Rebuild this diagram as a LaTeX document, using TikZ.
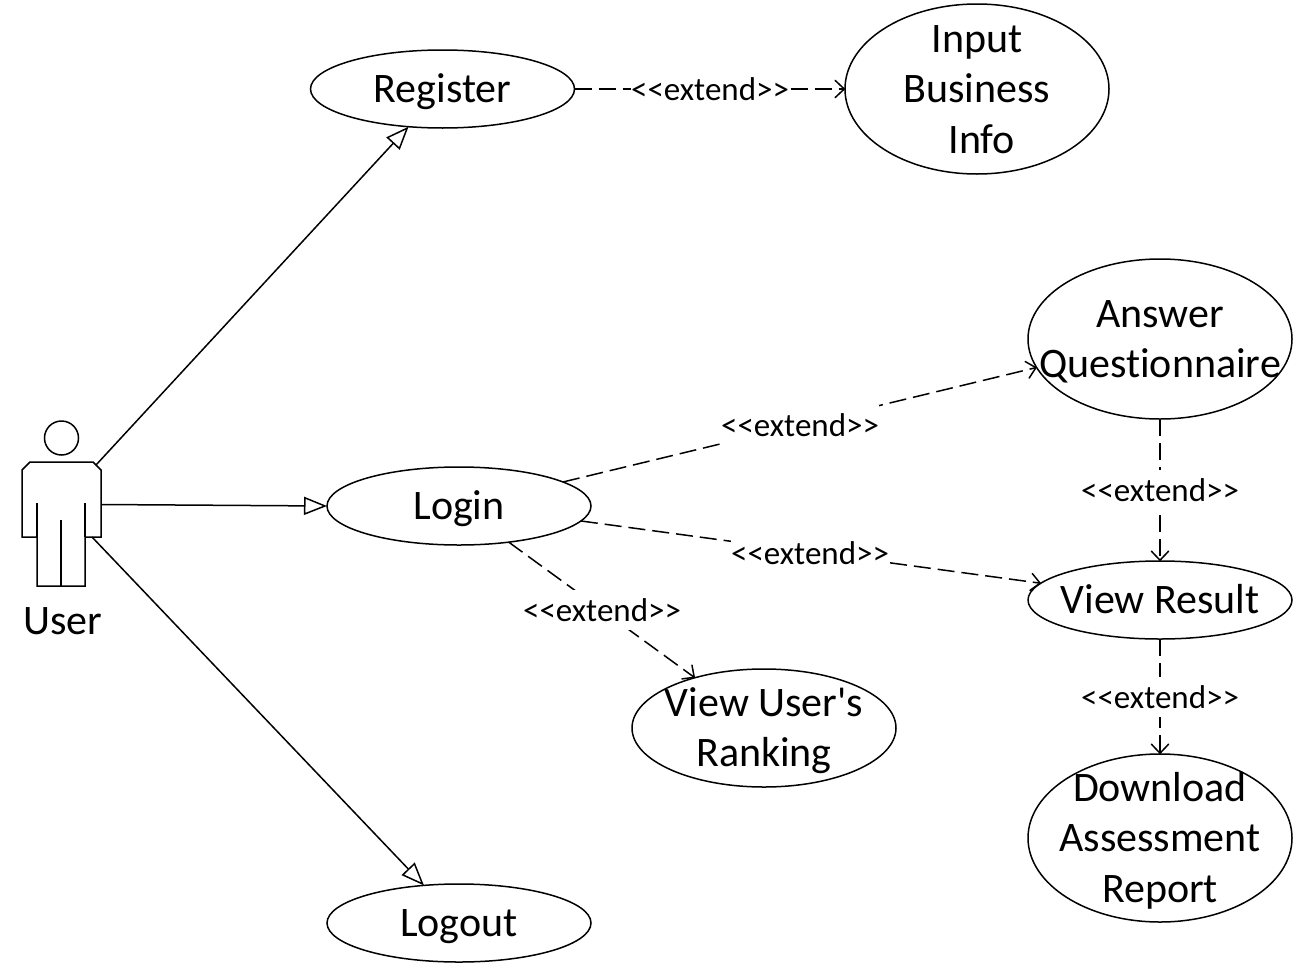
\documentclass[tikz,border=0pt]{standalone}
\usepackage{fontspec}
\setmainfont{Carlito}[Ligatures={NoCommon,TeXOff}]
\usetikzlibrary{shapes.geometric,arrows.meta}
\newcommand\uct[2]{\makebox[1pt]{\smash{\raisebox{\numexpr(#1-1)*25-13\relax pt}{\parbox[t]{400pt}{\centering\fontsize{42}{50.5}\selectfont #2}}}}}
\tikzset{
  x=1pt,y=-1pt,
  every node/.style={inner sep=0pt,outer sep=0pt},
  usecase/.style={draw=black,line width=1.5pt,ellipse,fill=white,minimum width=264pt},
  assoc/.style={draw=black,line width=1.5pt,-{Triangle[open,fill=white,length=23pt,width=18pt,line width=1.5pt]}},
  ext/.style={draw=black,line width=1.5pt,dash pattern=on 17pt off 7pt,-{Straight Barb[length=9pt,width=17pt,line width=1.5pt,round]}},
  extlabel/.style={fill=white,font=\fontsize{33}{36}\selectfont,minimum height=40pt},
  actorline/.style={draw=black,line width=1.5pt,line join=miter}
}
\begin{document}
\begin{tikzpicture}
\useasboundingbox (0,0) rectangle (1303,969);
% actor
\node[actorline,circle,minimum size=34pt] (head) at (61.5,438) {};
\draw[actorline] (22,470) -- (30,462) -- (93,462) -- (101,470) -- (101,537) -- (85,537) -- (85,586) -- (37,586) -- (37,537) -- (22,537) -- cycle;
\draw[actorline] (37,503) -- (37,537) (85,503) -- (85,537) (61,520) -- (61,586);
\node[font=\fontsize{42}{46}\selectfont,anchor=base] (user) at (62.5,634) {User};
\coordinate (actorNE) at (96,465);
\coordinate (actorE) at (101,504.5);
\coordinate (actorSE) at (92,537);
% use cases
\node[usecase,minimum height=78pt] (register) at (442.5,89) {\uct{1}{Register}};
\node[usecase,minimum height=170pt] (input) at (977,89) {\uct{3}{Input\\Business\\\ Info}};
\node[usecase,minimum height=160pt] (answer) at (1160,339) {\uct{2}{Answer\\Questionnaire}};
\node[usecase,minimum height=78pt] (login) at (459,506) {\uct{1}{Login}};
\node[usecase,minimum height=78pt] (result) at (1160,600) {\uct{1}{View Result}};
\node[usecase,minimum height=118pt] (ranking) at (764,728) {\uct{2}{View User's\\Ranking}};
\node[usecase,minimum height=168pt] (download) at (1160,838) {\uct{3}{Download\\Assessment\\Report}};
\node[usecase,minimum height=78pt] (logout) at (459,923) {\uct{1}{Logout}};
% associations
\draw[assoc] (actorNE) -- (register.228);
\draw[assoc] (actorE) -- (login.west);
\draw[assoc] (actorSE) -- (logout.133);
% extends
\draw[ext] (register.east) -- (input.west);
\draw[ext] (login.13) -- (answer.193);
\draw[ext] (login.-7.5) -- (result.172);
\draw[ext] (login.-36) -- (ranking.144);
\draw[ext] (answer.south) -- (result.north);
\draw[ext] (result.south) -- (download.north);
\node[extlabel] (l1) at (710,89) {<<extend>>};
\node[extlabel] (l2) at (800,425) {<<extend>>};
\node[extlabel] (l3) at (810,553) {<<extend>>};
\node[extlabel] (l4) at (602,610) {<<extend>>};
\node[extlabel] (l5) at (1160,490) {<<extend>>};
\node[extlabel] (l6) at (1160,697) {<<extend>>};
\end{tikzpicture}
\end{document}
